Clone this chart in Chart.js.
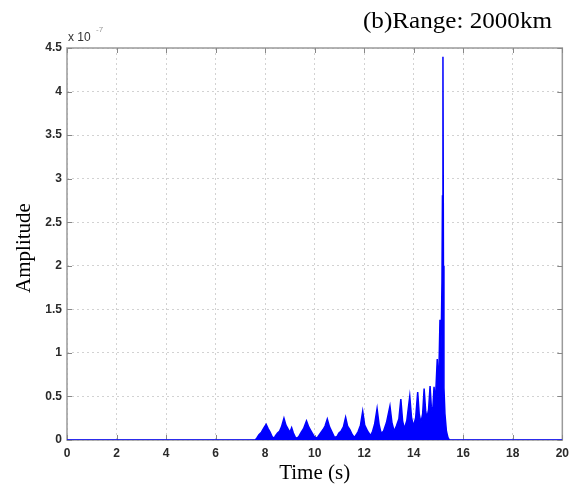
<!DOCTYPE html>
<html>
<head>
<meta charset="utf-8">
<script src="https://cdn.jsdelivr.net/npm/chart.js@4/dist/chart.umd.min.js"></script>
<style>
  html, body { margin: 0; padding: 0; background: #fff; }
  #wrap { width: 575px; height: 491px; }
</style>
</head>
<body>
<div id="wrap"><canvas id="ampChart" width="575" height="491"></canvas></div>
<script>
// envelope of the received signal (amplitude in units of 1e-7)
const timeS = [
  0, 7.6, 7.66, 7.75, 7.85, 7.95, 8.04, 8.12, 8.2, 8.28, 8.36,
  8.42, 8.5, 8.58, 8.66, 8.76, 8.84, 8.94, 9.0, 9.07, 9.14, 9.22, 9.3,
  9.38, 9.46, 9.55, 9.67, 9.76, 9.86, 9.96, 10.06,
  10.14, 10.24, 10.34, 10.42, 10.51, 10.6, 10.7, 10.8,
  10.9, 10.98, 11.06, 11.16, 11.25, 11.33, 11.42, 11.52, 11.61,
  11.68, 11.76, 11.85, 11.94, 12.02, 12.14, 12.26,
  12.34, 12.42, 12.52, 12.6, 12.68, 12.78, 12.9, 13.04, 13.12, 13.21,
  13.3, 13.4, 13.48, 13.55, 13.62, 13.72, 13.84, 13.91, 13.99,
  14.08, 14.16, 14.22, 14.29, 14.36, 14.42, 14.48, 14.53, 14.6, 14.66,
  14.71, 14.76, 14.82, 14.87, 14.95, 15.0, 15.06, 15.1, 15.14, 15.16,
  15.18, 15.2, 15.22, 15.26, 15.32, 15.38, 15.44, 20
];
const amplitude = [
  0, 0, 0.02, 0.06, 0.09, 0.14, 0.18, 0.13, 0.09, 0.04, 0.02,
  0.05, 0.08, 0.1, 0.15, 0.25, 0.17, 0.12, 0.09, 0.14, 0.08, 0.03, 0.02,
  0.05, 0.09, 0.13, 0.22, 0.15, 0.1, 0.05, 0.02,
  0.04, 0.08, 0.12, 0.16, 0.24, 0.15, 0.09, 0.03,
  0.04, 0.08, 0.1, 0.15, 0.26, 0.16, 0.12, 0.06, 0.03,
  0.06, 0.1, 0.17, 0.33, 0.17, 0.1, 0.05,
  0.1, 0.18, 0.36, 0.18, 0.08, 0.1, 0.2, 0.39, 0.2, 0.1,
  0.16, 0.24, 0.47, 0.22, 0.13, 0.22, 0.5, 0.26, 0.16,
  0.26, 0.55, 0.3, 0.2, 0.3, 0.59, 0.34, 0.25, 0.35, 0.62,
  0.38, 0.3, 0.61, 0.42, 0.93, 0.55, 1.38, 1.0, 1.8, 2.8,
  4.4, 2.0, 0.6, 0.3, 0.1, 0.03, 0, 0
];
const xTicks = [0, 2, 4, 6, 8, 10, 12, 14, 16, 18, 20];
const yTicks = [0, 0.5, 1, 1.5, 2, 2.5, 3, 3.5, 4, 4.5];

const points = timeS.map((t, i) => ({ x: t, y: amplitude[i] }));

const tickFont = { family: "Liberation Sans", size: 12, weight: "bold" };

// matlab style box, inward ticks and the loose text around the axes
const decorations = {
  id: "decorations",
  beforeDatasetsDraw(chart) {
    const { ctx, chartArea: a, scales } = chart;
    ctx.save();
    ctx.strokeStyle = "#9a9a9a";
    ctx.lineWidth = 1.5;
    ctx.strokeRect(a.left, a.top, a.right - a.left, a.bottom - a.top);
    ctx.strokeStyle = "#888";
    ctx.lineWidth = 1;
    ctx.beginPath();
    xTicks.forEach((v) => {
      const px = Math.round(scales.x.getPixelForValue(v)) + 0.5;
      ctx.moveTo(px, a.top);
      ctx.lineTo(px, a.top + 5);
      ctx.moveTo(px, a.bottom);
      ctx.lineTo(px, a.bottom - 5);
    });
    yTicks.forEach((v) => {
      const py = Math.round(scales.y.getPixelForValue(v)) + 0.5;
      ctx.moveTo(a.left, py);
      ctx.lineTo(a.left + 5, py);
      ctx.moveTo(a.right, py);
      ctx.lineTo(a.right - 5, py);
    });
    ctx.stroke();
    ctx.restore();
  },
  afterDraw(chart) {
    const { ctx, chartArea: a } = chart;
    ctx.save();
    ctx.fillStyle = "#000";

    // title, stretched a bit like the original
    ctx.font = "23px 'Liberation Serif'";
    ctx.textBaseline = "alphabetic";
    ctx.textAlign = "left";
    const title = "(b)Range: 2000km";
    const w = ctx.measureText(title).width;
    ctx.save();
    ctx.translate(363, 28);
    ctx.scale(189 / w, 1);
    ctx.fillText(title, 0, 0);
    ctx.restore();

    // x axis label
    ctx.font = "21px 'Liberation Serif'";
    ctx.textAlign = "center";
    ctx.fillText("Time (s)", (a.left + a.right) / 2, 479);

    // y axis label
    ctx.save();
    ctx.translate(30, (a.top + a.bottom) / 2 + 4);
    ctx.rotate(-Math.PI / 2);
    ctx.textBaseline = "alphabetic";
    ctx.fillText("Amplitude", 0, 0);
    ctx.restore();

    // exponent
    ctx.textAlign = "left";
    ctx.textBaseline = "middle";
    ctx.fillStyle = "#333";
    ctx.font = "12px 'Liberation Sans'";
    ctx.fillText("x 10", a.left + 1, 38);
    ctx.fillStyle = "#999";
    ctx.font = "8px 'Liberation Sans'";
    ctx.fillText("-7", a.left + 29, 30);
    ctx.restore();
  }
};

new Chart("ampChart", {
  type: "line",
  data: {
    datasets: [
      {
        label: "Amplitude",
        data: points,
        borderColor: "#0000ff",
        backgroundColor: "#0000ff",
        borderWidth: 1.5,
        fill: "origin",
        pointRadius: 0,
        tension: 0,
      },
    ],
  },
  options: {
    responsive: false,
    animation: false,
    events: [],
    layout: { padding: { top: 48, right: 9, left: 0, bottom: 0 } },
    plugins: {
      legend: { display: false },
      title: { display: false },
      tooltip: { enabled: false },
    },
    scales: {
      x: {
        type: "linear",
        min: 0,
        max: 20,
        afterBuildTicks: (scale) => {
          scale.ticks = xTicks.map((v) => ({ value: v }));
        },
        afterFit: (scale) => {
          scale.height = 51;
        },
        ticks: {
          callback: (v) => String(v),
          font: tickFont,
          color: "#2a2a2a",
          padding: 6,
          maxRotation: 0,
        },
        grid: { color: "#d2d2d2", lineWidth: 1, drawTicks: false },
        border: { display: false, dash: [2, 3] },
      },
      y: {
        min: 0,
        max: 4.5,
        afterBuildTicks: (scale) => {
          scale.ticks = yTicks.map((v) => ({ value: v }));
        },
        afterFit: (scale) => {
          scale.width = 67;
        },
        ticks: {
          callback: (v) => String(v),
          font: tickFont,
          color: "#2a2a2a",
          padding: 5,
        },
        grid: { color: "#d2d2d2", lineWidth: 1, drawTicks: false },
        border: { display: false, dash: [2, 3] },
      },
    },
  },
  plugins: [decorations],
});
</script>
</body>
</html>
